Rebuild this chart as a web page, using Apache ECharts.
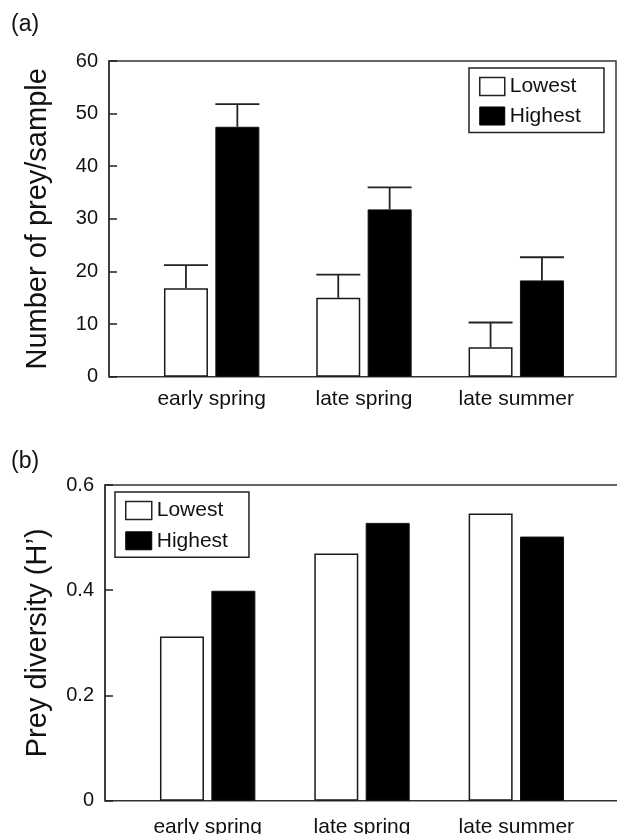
<!DOCTYPE html>
<html>
<head>
<meta charset="utf-8">
<script src="https://cdn.jsdelivr.net/npm/echarts@6/dist/echarts.min.js"></script>
<style>
  html, body { margin: 0; padding: 0; background: #fff; }
  #chart { width: 617px; height: 834px; }
</style>
</head>
<body>
<div id="chart"></div>
<script>
// ---- data ----
var categories = ['early spring', 'late spring', 'late summer'];
var seriesNames = ['Lowest', 'Highest'];
// (a) Number of prey/sample: means and upper error (SE)
var preyLowest = [16.8, 15.0, 5.6];
var preyLowestErr = [4.4, 4.4, 4.7];
var preyHighest = [47.5, 31.8, 18.3];
var preyHighestErr = [4.3, 4.2, 4.4];
// (b) Prey diversity (H')
var divLowest = [0.312, 0.470, 0.546];
var divHighest = [0.399, 0.528, 0.502];
// tick settings
var preyTicks = { min: 0, max: 60, interval: 10 };
var divTicks = { min: 0, max: 0.6, interval: 0.2 };

// ---- styles ----
var FONT = "'Liberation Sans', Arial, Helvetica, sans-serif";
var BAR_W = 44;
var GAP = 7.4;
var INK = '#111';

var chart = echarts.init(document.getElementById('chart'), null, { renderer: 'canvas' });

function errRender(sign) {
  return function (params, api) {
    var idx = api.value(0), v = api.value(1), e = api.value(2);
    var p0 = api.coord([idx, v]);
    var p1 = api.coord([idx, v + e]);
    var cx = p0[0] + sign * (BAR_W / 2 + GAP / 2);
    var st = { stroke: '#222', lineWidth: 1.8 };
    return {
      type: 'group',
      children: [
        { type: 'line', shape: { x1: cx, y1: p0[1], x2: cx, y2: p1[1] }, style: st },
        { type: 'line', shape: { x1: cx - BAR_W / 2, y1: p1[1], x2: cx + BAR_W / 2, y2: p1[1] }, style: st }
      ]
    };
  };
}

function frameY(gridIndex, ticks, name, nameGap, fmt) {
  return {
    gridIndex: gridIndex, type: 'value', min: ticks.min, max: ticks.max, interval: ticks.interval,
    axisLine: { show: true, lineStyle: { color: '#333', width: 1.5 } },
    axisTick: { show: true, inside: true, length: 8, lineStyle: { color: '#222', width: 1.5 } },
    splitLine: { show: false },
    axisLabel: { fontSize: 20, fontFamily: FONT, color: INK, margin: 11, formatter: fmt },
    name: name, nameLocation: 'middle', nameGap: nameGap,
    nameTextStyle: { fontSize: 29, fontFamily: FONT, color: INK }
  };
}
function hiddenY(gridIndex, ticks) {
  return { gridIndex: gridIndex, type: 'value', min: ticks.min, max: ticks.max, show: false, splitLine: { show: false } };
}
function catX(gridIndex, margin) {
  return {
    gridIndex: gridIndex, type: 'category', data: categories, boundaryGap: true,
    axisLine: { show: false }, axisTick: { show: false }, splitLine: { show: false },
    axisLabel: { fontSize: 21, fontFamily: FONT, color: INK, margin: margin }
  };
}

var lowStyle = { color: '#fff', borderColor: '#1a1a1a', borderWidth: 1.5 };
var highStyle = { color: '#000', borderColor: '#111', borderWidth: 1 };

function legendCfg(left, top, itemWidth, textGap, itemGap, padding) {
  return {
    orient: 'vertical', left: left, top: top, icon: 'rect',
    itemWidth: itemWidth, itemHeight: 18, itemGap: itemGap, itemTextGap: textGap,
    padding: padding, borderColor: '#222', borderWidth: 1.5, backgroundColor: '#fff',
    selectedMode: false,
    textStyle: { fontSize: 21, fontFamily: FONT, color: INK },
    data: [
      { name: seriesNames[0], itemStyle: { color: '#fff', borderColor: '#222', borderWidth: 1.5 } },
      { name: seriesNames[1], itemStyle: { color: '#000', borderColor: '#000', borderWidth: 1 } }
    ]
  };
}

var option = {
  backgroundColor: '#fff',
  animation: false,
  graphic: [
    { type: 'text', left: 11, top: 13, style: { text: '(a)', fontSize: 23, fontFamily: FONT, fill: INK } },
    { type: 'text', left: 11, top: 450, style: { text: '(b)', fontSize: 23, fontFamily: FONT, fill: INK } }
  ],
  grid: [
    { left: 109, top: 61, width: 507, height: 315.7, show: true, borderColor: '#333', borderWidth: 1.5, backgroundColor: 'transparent', outerBoundsMode: 'none', containLabel: false },
    { left: 135.5, top: 61, width: 456.9, height: 315.7, outerBoundsMode: 'none', containLabel: false },
    { left: 105, top: 485, width: 518, height: 315.7, show: true, borderColor: '#333', borderWidth: 1.5, backgroundColor: 'transparent', outerBoundsMode: 'none', containLabel: false },
    { left: 130.5, top: 485, width: 463, height: 315.7, outerBoundsMode: 'none', containLabel: false }
  ],
  xAxis: [
    { gridIndex: 0, type: 'value', show: false, min: 0, max: 1, splitLine: { show: false } },
    catX(1, 12),
    { gridIndex: 2, type: 'value', show: false, min: 0, max: 1, splitLine: { show: false } },
    catX(3, 16)
  ],
  yAxis: [
    frameY(0, preyTicks, 'Number of prey/sample', 57, null),
    hiddenY(1, preyTicks),
    frameY(2, divTicks, 'Prey diversity (H\u2019)', 53, function (v) { return v === 0 ? '0' : v.toFixed(1); }),
    hiddenY(3, divTicks)
  ],
  legend: [
    legendCfg(469, 68, 25, 10, 8.5, [8, 23, 6, 10]),
    legendCfg(115, 492, 26, 8, 9.3, [8, 21, 6, 10])
  ],
  series: [
    { name: seriesNames[0], type: 'bar', xAxisIndex: 1, yAxisIndex: 1, data: preyLowest, barWidth: BAR_W, barGap: (GAP / BAR_W * 100).toFixed(1) + '%', itemStyle: lowStyle },
    { name: seriesNames[1], type: 'bar', xAxisIndex: 1, yAxisIndex: 1, data: preyHighest, barWidth: BAR_W, itemStyle: highStyle },
    { name: 'errLow', type: 'custom', xAxisIndex: 1, yAxisIndex: 1, renderItem: errRender(-1),
      encode: { x: 0, y: 1 }, z: 3,
      data: preyLowest.map(function (v, i) { return [i, v, preyLowestErr[i]]; }) },
    { name: 'errHigh', type: 'custom', xAxisIndex: 1, yAxisIndex: 1, renderItem: errRender(1),
      encode: { x: 0, y: 1 }, z: 3,
      data: preyHighest.map(function (v, i) { return [i, v, preyHighestErr[i]]; }) },
    { name: seriesNames[0], type: 'bar', xAxisIndex: 3, yAxisIndex: 3, data: divLowest, barWidth: BAR_W, barGap: (GAP / BAR_W * 100).toFixed(1) + '%', itemStyle: lowStyle },
    { name: seriesNames[1], type: 'bar', xAxisIndex: 3, yAxisIndex: 3, data: divHighest, barWidth: BAR_W, itemStyle: highStyle }
  ]
};
chart.setOption(option);
</script>
</body>
</html>
